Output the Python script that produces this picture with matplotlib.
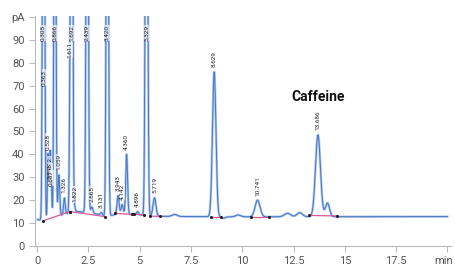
import numpy as np
import matplotlib.pyplot as plt
import matplotlib.transforms as mtransforms

plt.rcParams['font.family'] = ['Roboto', 'DejaVu Sans']

# baseline of the detector signal (time in min, pA)
base_t = [0.0, 0.3, 1.6, 2.0, 3.0, 3.3, 4.0, 5.0, 6.0, 9.0, 20.0]
base_y = [11.5, 11.0, 14.5, 15.0, 13.8, 12.8, 14.0, 13.5, 12.9, 12.7, 12.8]

# labelled peaks: retention time, apex (pA), width (min)
peak_rt = [0.305, 0.363, 0.528, 0.612, 0.648, 0.687, 0.866, 1.059, 1.326, 1.611, 1.692,
           1.822, 2.439, 2.665, 3.131, 3.420, 3.943, 4.142, 4.360, 4.896, 5.329, 5.719,
           8.629, 10.741, 13.686]
peak_apex = [300, 68, 40, 30, 27, 24, 300, 31, 21, 80, 300,
             17, 300, 17, 14.5, 300, 22, 18, 40, 15, 300, 21,
             76, 20, 48.5]
peak_w = [0.04, 0.03, 0.03, 0.03, 0.03, 0.03, 0.04, 0.04, 0.04, 0.035, 0.04,
          0.04, 0.045, 0.05, 0.05, 0.045, 0.05, 0.05, 0.045, 0.05, 0.05, 0.07,
          0.085, 0.12, 0.12]
peak_lbl = ['0.305', '0.363', '0.528', '0.612', '0.648', '0.687', '0.866', '1.059', '1.326',
            '1.611', '1.692', '1.822', '2.439', '2.665', '3.131', '3.420', '3.943', '4.142',
            '4.360', '4.896', '5.329', '5.719', '8.629', '10.741', '13.686']

# small unlabelled bumps and dips
bump_rt = [6.7, 9.05, 9.8, 12.2, 12.8, 14.15]
bump_h = [0.9, -0.6, 0.8, 1.5, 1.8, 6.0]
bump_w = [0.12, 0.12, 0.12, 0.15, 0.13, 0.1]

# integration baselines (pink)
seg_t0 = [0.3, 1.6, 3.8, 4.7, 5.5, 8.45, 10.4, 13.25]
seg_y0 = [11.0, 15.0, 14.2, 13.8, 13.0, 12.8, 12.8, 13.3]
seg_t1 = [1.6, 3.3, 4.6, 5.2, 6.0, 8.95, 11.3, 14.6]
seg_y1 = [15.0, 12.8, 13.8, 13.6, 12.9, 12.8, 12.8, 13.1]

t = np.linspace(0.0, 20.0, 8000)
sig = np.interp(t, base_t, base_y)
for rt, ap, w in zip(peak_rt, peak_apex, peak_w):
    sig = sig + (ap - np.interp(rt, base_t, base_y)) * np.exp(-0.5 * ((t - rt) / w) ** 2)
for rt, h, w in zip(bump_rt, bump_h, bump_w):
    sig = sig + h * np.exp(-0.5 * ((t - rt) / w) ** 2)
sig[t < 0.02] = np.nan

fig = plt.figure(figsize=(4.56, 2.67), dpi=100)
ax = fig.add_axes([0.077, 0.079, 0.912, 0.862])

ax.plot(t, sig, color='#b3cbef', lw=1.8, zorder=2)
ax.plot(t, sig, color='#4a78c6', lw=0.75, zorder=3)
for a, b, c, d in zip(seg_t0, seg_y0, seg_t1, seg_y1):
    ax.plot([a, c], [b, d], color='#e0559a', lw=0.9, zorder=4)
    ax.plot([a, c], [b, d], 'o', color='#222222', ms=1.2, zorder=5)

for rt, ap, lb in zip(peak_rt, peak_apex, peak_lbl):
    y = 93 if ap > 100 else ap + 2
    ax.text(rt, y, lb, rotation=90, fontsize=4.6, ha='center', va='bottom' if ap <= 100 else 'center',
            color='#222222', zorder=6,
            bbox=dict(facecolor='white', edgecolor='none', pad=0.1, alpha=0.6))

ax.text(13.7, 65, 'Caffeine', fontsize=10, fontweight='bold', ha='center', va='center',
        color='#111111')

ax.set_xlim(-0.1, 20.17)
ax.set_ylim(0, 100.5)
ax.set_yticks(range(0, 101, 10))
ax.set_yticklabels([str(v) for v in range(0, 100, 10)] + ['pA'])
ax.set_xticks([0, 2.5, 5, 7.5, 10, 12.5, 15, 17.5, 20])
ax.set_xticklabels(['0', '2.5', '5', '7.5', '10', '12.5', '15', '17.5', 'min'])
ax.tick_params(labelsize=8, colors='#555555', length=4, width=0.8, color='#bbbbbb')
last = ax.get_xticklabels()[-1]
last.set_transform(last.get_transform() + mtransforms.ScaledTranslation(-3 / 72, 0, fig.dpi_scale_trans))
for s in ['top', 'right']:
    ax.spines[s].set_visible(False)
for s in ['left', 'bottom']:
    ax.spines[s].set_color('#bbbbbb')
    ax.spines[s].set_linewidth(0.8)

fig.savefig('out.png', dpi=100)
